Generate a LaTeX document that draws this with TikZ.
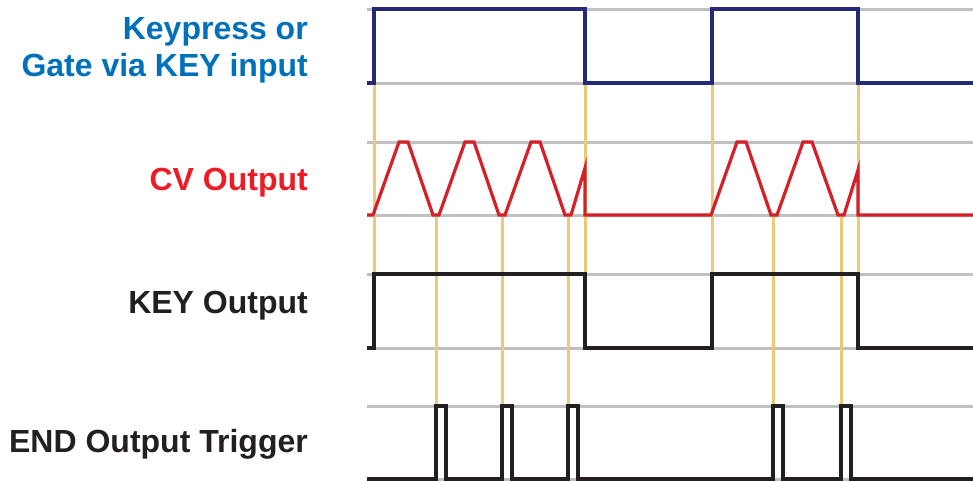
\documentclass[tikz,border=0pt]{standalone}
\usepackage{fontspec}
\setmainfont{Liberation Sans}
\definecolor{gateblue}{RGB}{36,42,120}
\definecolor{labelblue}{RGB}{0,112,186}
\definecolor{cvred}{RGB}{214,32,39}
\definecolor{labelred}{RGB}{237,28,36}
\definecolor{inkblack}{RGB}{35,31,32}
\definecolor{gridgray}{RGB}{192,192,192}
\definecolor{guideyellow}{RGB}{236,200,120}
\usetikzlibrary{positioning}

\begin{document}
\begin{tikzpicture}[
    x=1pt, y=-1pt,
    grid line/.style={gridgray, line width=3pt},
    guide/.style={guideyellow, line width=3pt},
    wave/.style={line width=3.2pt, line join=miter},
    lbl/.style={anchor=base east, align=right, inner sep=0pt, font=\fontsize{32}{37}\selectfont\bfseries}
]
    \useasboundingbox (0,0) rectangle (973,480);

    % Grid lines
    \foreach \y in {9,83,142,215,274,348,406,479}
        \draw[grid line] (367,\y) -- (973,\y);

    % Guides: gate edges
    \foreach \x in {374,585,712,858}
        \draw[guide] (\x,83) -- (\x,274);
    % Guides: end of each ramp
    \foreach \x in {436,502,568,773,841}
        \draw[guide] (\x,215) -- (\x,406);

    % Keypress / gate input
    \draw[wave, gateblue] (367,83) -- (374,83) -- (374,9) -- (585,9) -- (585,83)
        -- (712,83) -- (712,9) -- (858,9) -- (858,83) -- (973,83);

    % CV output
    \draw[wave, cvred] (367,215) -- (373,215) -- (399,142) -- (408,142) -- (433,215)
        -- (439,215) -- (465,142) -- (474,142) -- (499,215)
        -- (505,215) -- (531,142) -- (540,142) -- (565,215)
        -- (571,215) -- (585,168) -- (585,215) -- (711,215)
        -- (737,142) -- (746,142) -- (771,215)
        -- (777,215) -- (803,142) -- (812,142) -- (838,215)
        -- (844,215) -- (858,170) -- (858,215) -- (973,215);

    % KEY output
    \draw[wave, inkblack] (367,348) -- (374,348) -- (374,274) -- (585,274) -- (585,348)
        -- (712,348) -- (712,274) -- (858,274) -- (858,348) -- (973,348);

    % END output trigger
    \draw[wave, inkblack] (367,479) -- (436,479) -- (436,406) -- (446,406) -- (446,479)
        -- (502,479) -- (502,406) -- (512,406) -- (512,479)
        -- (568,479) -- (568,406) -- (578,406) -- (578,479)
        -- (773,479) -- (773,406) -- (783,406) -- (783,479)
        -- (841,479) -- (841,406) -- (851,406) -- (851,479) -- (973,479);

    % Labels
    \node[lbl, labelblue] (gatelbl) at (308,76) {Keypress or\\Gate via KEY input};
    \node[lbl, labelred] (cvlbl) at (308,190) {CV Output};
    \node[lbl, inkblack] (keylbl) at (308,313) {KEY Output};
    \node[lbl, inkblack] (endlbl) at (308,452) {END Output Trigger};
\end{tikzpicture}
\end{document}
